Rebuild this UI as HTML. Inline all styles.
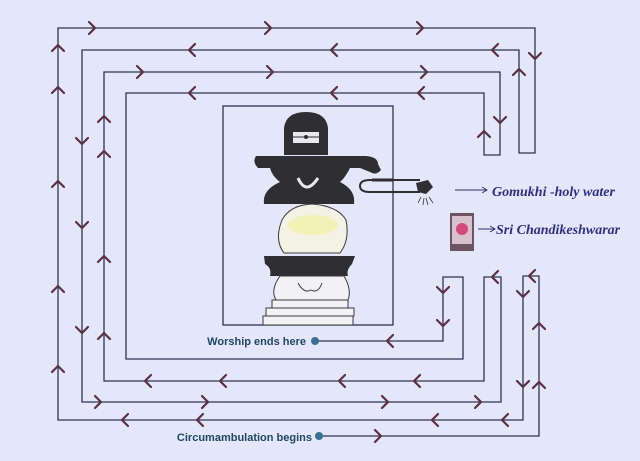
<!DOCTYPE html>
<html><head><meta charset="utf-8"><style>
html,body{margin:0;padding:0;background:#e4e6f9;}
svg{display:block}
</style></head><body>
<svg width="640" height="461" viewBox="0 0 640 461" xmlns="http://www.w3.org/2000/svg">
<defs>
<path id="c" d="M-5,-6 L1,0 L-5,6" fill="none" stroke="#5a3146" stroke-width="2.2" stroke-linecap="round" stroke-linejoin="miter"/>
</defs>
<rect width="640" height="461" fill="#e4e6f9"/>
<g fill="none" stroke="#2e3350" stroke-width="1.3">
<polyline points="318,436 539,436 539,276 523,276 523,420 58,420 58,28 535,28 535,153 519,153 519,50 82,50 82,402 501,402 501,277 484,277 484,381 104,381 104,72 500,72 500,155 484,155 484,93 126,93 126,359 463,359 463,277 443,277 443,341 315,341"/>
<rect x="223" y="106" width="170" height="219"/>
</g>
<!-- arrows: right -->
<g>
<use href="#c" transform="translate(94,28)"/><use href="#c" transform="translate(270,28)"/><use href="#c" transform="translate(422,28)"/>
<use href="#c" transform="translate(142,72)"/><use href="#c" transform="translate(272,72)"/><use href="#c" transform="translate(426,72)"/>
<use href="#c" transform="translate(100,402)"/><use href="#c" transform="translate(207,402)"/><use href="#c" transform="translate(387,402)"/><use href="#c" transform="translate(480,402)"/>
<use href="#c" transform="translate(380,436)"/>
<!-- left -->
<use href="#c" transform="translate(190,50) rotate(180)"/><use href="#c" transform="translate(332,50) rotate(180)"/><use href="#c" transform="translate(493,50) rotate(180)"/>
<use href="#c" transform="translate(190,93) rotate(180)"/><use href="#c" transform="translate(332,93) rotate(180)"/><use href="#c" transform="translate(419,93) rotate(180)"/>
<use href="#c" transform="translate(388,341) rotate(180)"/>
<use href="#c" transform="translate(146,381) rotate(180)"/><use href="#c" transform="translate(221,381) rotate(180)"/><use href="#c" transform="translate(340,381) rotate(180)"/><use href="#c" transform="translate(415,381) rotate(180)"/>
<use href="#c" transform="translate(123,420) rotate(180)"/><use href="#c" transform="translate(198,420) rotate(180)"/><use href="#c" transform="translate(433,420) rotate(180)"/><use href="#c" transform="translate(503,420) rotate(180)"/>
<use href="#c" transform="translate(493,277) rotate(180)"/><use href="#c" transform="translate(530,276) rotate(180)"/>
<!-- down -->
<use href="#c" transform="translate(535,58) rotate(90)"/><use href="#c" transform="translate(500,122) rotate(90)"/>
<use href="#c" transform="translate(82,143) rotate(90)"/><use href="#c" transform="translate(82,227) rotate(90)"/><use href="#c" transform="translate(82,332) rotate(90)"/>
<use href="#c" transform="translate(443,292) rotate(90)"/><use href="#c" transform="translate(443,325) rotate(90)"/>
<use href="#c" transform="translate(523,296) rotate(90)"/><use href="#c" transform="translate(523,386) rotate(90)"/>
<!-- up -->
<use href="#c" transform="translate(519,70) rotate(-90)"/><use href="#c" transform="translate(484,132) rotate(-90)"/>
<use href="#c" transform="translate(58,46) rotate(-90)"/><use href="#c" transform="translate(58,88) rotate(-90)"/><use href="#c" transform="translate(58,182) rotate(-90)"/><use href="#c" transform="translate(58,287) rotate(-90)"/><use href="#c" transform="translate(58,367) rotate(-90)"/>
<use href="#c" transform="translate(104,117) rotate(-90)"/><use href="#c" transform="translate(104,152) rotate(-90)"/><use href="#c" transform="translate(104,257) rotate(-90)"/><use href="#c" transform="translate(104,334) rotate(-90)"/>
<use href="#c" transform="translate(539,324) rotate(-90)"/><use href="#c" transform="translate(539,383) rotate(-90)"/>
</g>
<!-- lingam -->
<g>
<path d="M284,155 L284,128 Q286,112 306,112 Q326,112 328,128 L328,155 Z" fill="#2f2f33"/>
<rect x="293" y="132" width="26" height="11" fill="#e8e8ee"/>
<line x1="293" y1="137" x2="319" y2="137" stroke="#2f2f33" stroke-width="1"/>
<circle cx="306" cy="137" r="2" fill="#2f2f33"/>
<path d="M256,156 L366,156 Q378,157 378,164 L381,170 Q376,176 370,172 L360,168 L258,168 Q252,162 256,156 Z" fill="#2f2f33"/>
<path d="M270,168 L350,168 Q345,178 340,182 Q356,190 354,204 L264,204 Q262,190 280,182 Q272,176 270,168 Z" fill="#2f2f33"/>
<path d="M298,178 Q306,196 318,178" fill="none" stroke="#e8e8ee" stroke-width="3"/>
<path d="M282,220 Q290,205 312,204 Q338,206 346,220 Q350,240 340,253 L284,253 Q274,240 282,220 Z" fill="#f3f2e4" stroke="#3a3a3e" stroke-width="1"/>
<ellipse cx="313" cy="225" rx="25" ry="10" fill="#f4f1b8"/>
<path d="M264,256 L355,256 L352,264 Q346,270 348,276 L270,276 Q272,268 265,264 Z" fill="#2f2f33"/>
<path d="M280,276 L344,276 Q352,290 348,300 L276,300 Q270,290 280,276 Z" fill="#f2f2f4" stroke="#3a3a3e" stroke-width="1"/>
<path d="M298,283 Q304,294 311,290 Q318,294 322,283" fill="none" stroke="#3a3a3e" stroke-width="1"/>
<rect x="272" y="300" width="76" height="8" fill="#f2f2f4" stroke="#3a3a3e" stroke-width="1"/>
<rect x="266" y="308" width="88" height="8" fill="#f2f2f4" stroke="#3a3a3e" stroke-width="1"/>
<rect x="263" y="316" width="90" height="9" fill="#f2f2f4" stroke="#3a3a3e" stroke-width="1"/>
<path d="M420,180 L370,180 Q360,180 360,186 Q360,192 370,192 L420,192" fill="none" stroke="#2f2f33" stroke-width="2"/>
<line x1="372" y1="180" x2="393" y2="180" stroke="#2f2f33" stroke-width="3"/>
<path d="M416,183 L428,180 L433,187 L426,194 L418,192 Z" fill="#2f2f33"/>
<path d="M418,203 L421,197 M423,205 L424,198 M428,205 L426,198 M433,203 L429,197" stroke="#2f2f33" stroke-width="0.8"/>
</g>
<!-- labels -->
<line x1="455" y1="190" x2="486" y2="190" stroke="#2d2f6a" stroke-width="1"/>
<path d="M482,187 L487,190 L482,193" fill="none" stroke="#2d2f6a" stroke-width="1"/>
<text x="492" y="196" font-family="Liberation Serif, serif" font-style="italic" font-weight="bold" font-size="14" fill="#2d2f7a">Gomukhi -holy water</text>
<rect x="450" y="213" width="24" height="38" fill="#6a5560"/>
<rect x="452" y="216" width="20" height="28" fill="#d8c0cc"/>
<circle cx="462" cy="229" r="6" fill="#d04a7c"/>
<line x1="478" y1="229" x2="494" y2="229" stroke="#2d2f6a" stroke-width="1"/>
<path d="M490,226 L495,229 L490,232" fill="none" stroke="#2d2f6a" stroke-width="1"/>
<text x="496" y="234" font-family="Liberation Serif, serif" font-style="italic" font-weight="bold" font-size="14" fill="#2d2f7a">Sri Chandikeshwarar</text>
<text x="306" y="345" text-anchor="end" font-family="Liberation Sans, sans-serif" font-weight="bold" font-size="11" fill="#1f4662">Worship ends here</text>
<circle cx="315" cy="341" r="4" fill="#3b7093"/>
<text x="312" y="441" text-anchor="end" font-family="Liberation Sans, sans-serif" font-weight="bold" font-size="11" fill="#1f4662">Circumambulation begins</text>
<circle cx="319" cy="436" r="4" fill="#3b7093"/>
</svg>
</body></html>
